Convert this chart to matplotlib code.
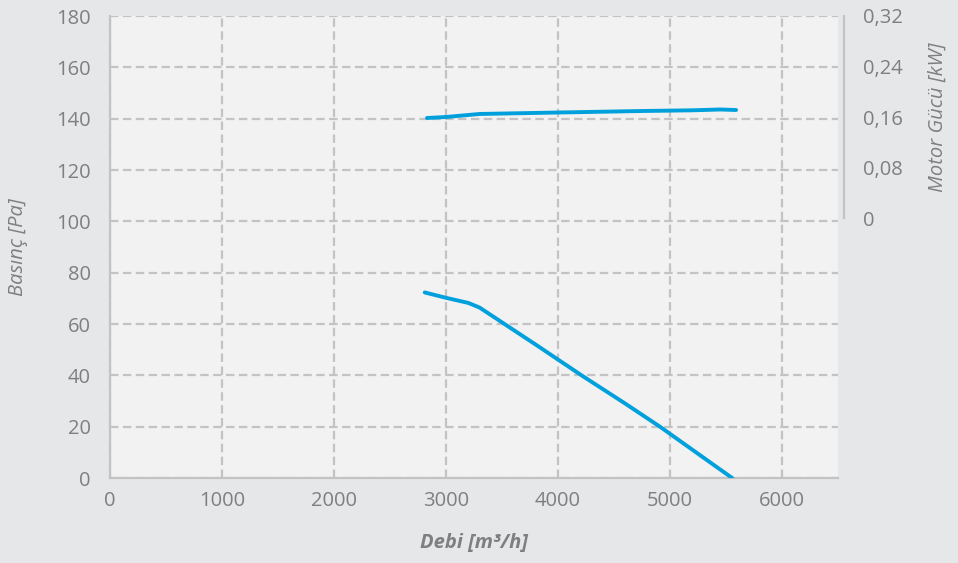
import matplotlib.pyplot as plt
from matplotlib.ticker import FuncFormatter

plt.rcParams['font.family'] = ['Open Sans', 'DejaVu Sans']

# pressure curve (Pa) vs flow (m3/h)
debi_p = [2810, 3000, 3200, 3300, 3800, 4210, 4600, 4910, 5200, 5555]
basinc = [72.3, 70.2, 68.2, 66.4, 52.0, 40.0, 29.0, 20.0, 11.0, 0.0]

# motor power curve (kW) vs flow (m3/h)
debi_m = [2830, 3000, 3300, 4000, 4750, 5200, 5450, 5590]
guc = [0.1584, 0.1600, 0.1648, 0.1671, 0.1695, 0.1706, 0.1719, 0.1711]

x_ticks = [0, 1000, 2000, 3000, 4000, 5000, 6000]
y_ticks = [0, 20, 40, 60, 80, 100, 120, 140, 160, 180]
g_ticks = [0, 0.08, 0.16, 0.24, 0.32]

bg = '#e6e7e9'
face = '#f2f2f2'
grid_c = '#c3c3c3'
txt = '#7f7f7f'
blue = '#00a0dc'
fs = 14.5

W, H = 958, 563
fig = plt.figure(figsize=(W / 100, H / 100), dpi=100, facecolor=bg)

L, R, T, B = 110, 838, 16, 478
ax = fig.add_axes([L / W, 1 - B / H, (R - L) / W, (B - T) / H])
ax.set_facecolor(face)
ax.set_xlim(0, 6500)
ax.set_ylim(0, 180)
ax.set_xticks(x_ticks)
ax.set_yticks(y_ticks)
ax.grid(True, color=grid_c, linestyle=(0, (3.8, 2)), linewidth=1.6)
ax.set_axisbelow(True)
for s in ['top', 'right']:
    ax.spines[s].set_visible(False)
for s in ['left', 'bottom']:
    ax.spines[s].set_color(grid_c)
    ax.spines[s].set_linewidth(1.6)
ax.tick_params(length=0, labelsize=fs, labelcolor=txt)
ax.tick_params(axis='y', pad=14)
ax.tick_params(axis='x', pad=9)
ax.plot(debi_p, basinc, color=blue, lw=2.8, solid_capstyle='round', zorder=3)
ax.set_ylabel('Basınç [Pa]', fontsize=fs, color=txt, style='italic', labelpad=20)
ax.set_xlabel('Debi [m³/h]', fontsize=fs, color=txt, style='italic', weight='bold', labelpad=16)

# secondary axis for motor power, upper part only
T2 = 218
ax2 = fig.add_axes([L / W, 1 - T2 / H, (R - L) / W, (T2 - T) / H])
ax2.patch.set_visible(False)
ax2.set_xlim(0, 6500)
ax2.set_ylim(0, 0.32)
ax2.set_xticks([])
ax2.set_yticks(g_ticks)
ax2.yaxis.tick_right()
ax2.yaxis.set_label_position('right')
ax2.yaxis.set_major_formatter(FuncFormatter(lambda v, p: '0' if v == 0 else f'{v:.2f}'.replace('.', ',')))
for s in ['top', 'left', 'bottom']:
    ax2.spines[s].set_visible(False)
ax2.spines['right'].set_color(grid_c)
ax2.spines['right'].set_linewidth(1.6)
ax2.spines['right'].set_position(('outward', 4))
ax2.tick_params(length=0, labelsize=fs, labelcolor=txt, pad=14)
ax2.plot(debi_m, guc, color=blue, lw=2.8, solid_capstyle='round', zorder=3)
ax2.set_ylabel('Motor Gücü [kW]', fontsize=fs, color=txt, style='italic', labelpad=18)

fig.savefig('out.png', dpi=100, facecolor=bg)
